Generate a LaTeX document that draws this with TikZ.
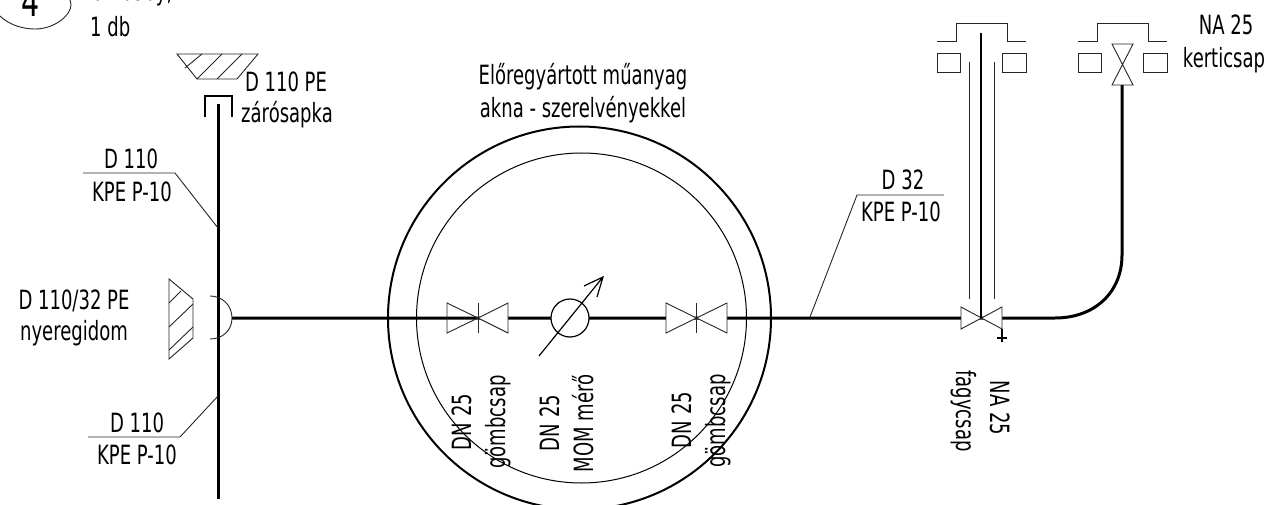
\documentclass[tikz,border=0pt]{standalone}
\usepackage{fontspec}
\setmainfont{DejaVu Sans}[FakeStretch=0.68]
\tikzset{
  thinl/.style={line width=0.9pt,black!85},
  pipe/.style={line width=3pt,black},
  txt/.style={inner sep=0pt,font=\fontsize{26.5}{26.5}\selectfont,black},
  valveb/.style={line width=0.9pt,black!85,fill=white}
}
\begin{document}
\begin{tikzpicture}[x=1pt,y=-1pt]
\useasboundingbox (0,0) rectangle (1271,505);
\clip (0,0) rectangle (1271,505);
% circles
\coordinate (co) at (579.5,318);
\coordinate (ci) at (581.5,318);
\draw[line width=2pt] (co) circle[radius=191.5];
\draw[line width=1pt] (ci) circle[radius=165];
% ellipse + number
\draw[thinl] (0,16) .. controls (10,26) and (25,29) .. (35,29) .. controls (55,29) and (71,15) .. (71,5) .. controls (71,2) and (70,0) .. (69,-2);
\node[txt,font=\fontsize{42}{42}\selectfont,anchor=base] (num) at (31,17) {4};
\node[txt,anchor=base west] (qty) at (92,1) {0 - 050y,};
\node[txt,anchor=base west] (db) at (90,37) {1 db};
% pipes
\coordinate (vtop) at (218,104);
\coordinate (vbot) at (218,499);
\draw[pipe] (vtop) -- (vbot);
\coordinate (tee) at (232,318);
\coordinate (bend) at (1122,85);
\draw[pipe] (tee) -- (1055,318) .. controls (1095,318) and (1122,292) .. (1122,255) -- (bend);
% cap
\draw[line width=2.4pt] (205,117) -- (205,96) -- (232,96) -- (232,117);
% cap hatch
\draw[thinl] (177,54) -- (258,54) -- (237,79) -- (197,79) -- cycle;
\draw[thinl] (185,68) -- (202,54) (197,79) -- (222,54) (217,79) -- (242,54);
% saddle
\draw[thinl] (169,279) -- (193,299) -- (193,338) -- (169,359) -- cycle;
\draw[thinl] (169,303) -- (181,291) (169,327) -- (193,304) (169,350) -- (193,327);
\draw[thinl] (210,296) .. controls (222,296) and (232,305) .. (232,318) .. controls (232,331) and (222,339) .. (210,339);
% leaders
\draw[thinl] (83,173) -- (175,173) -- (218,228);
\draw[thinl] (88,437) -- (180,437) -- (218,396);
\draw[thinl] (944,195) -- (857,195) -- (810,317);
% valve left: pipe stays visible in its left half
\draw[thinl] (447,303) -- (447,333) -- (478,318) -- cycle;
\draw[valveb] (478,318) -- (508,303) -- (508,333) -- cycle;
\draw[thinl] (478,303) -- (478,333);
% valve right
\draw[valveb] (666,303) -- (727,333) -- (727,303) -- (666,333) -- cycle;
\draw[thinl] (696,303) -- (696,333);
% meter
\node[draw,circle,line width=1.2pt,fill=white,minimum size=38pt,inner sep=0pt] (mom) at (570,318) {};
\coordinate (ms) at (539,356);
\coordinate (me) at (603,277);
\coordinate (ma) at (584,286);
\coordinate (mb) at (597,297);
\draw[line width=1.2pt] (ms) -- (me) (ma) -- (me) -- (mb);
% frost valve
\draw[valveb] (961,307) -- (1002,329) -- (1002,307) -- (961,329) -- cycle;
\draw[line width=1.4pt] (981,33) -- (981,318);
\draw[thinl] (969,62) -- (969,299) (994,62) -- (994,299);
\draw[line width=1.5pt] (1002,329) -- (1002,342) (997,338) -- (1007,338);
% surface boxes
\foreach \dx in {0,141}{
  \draw[thinl,xshift=\dx pt] (937,41) -- (956,41) -- (956,23) -- (1007,23) -- (1007,41) -- (1026,41);
  \draw[thinl,xshift=\dx pt] (937,53) rectangle (960,72) (1002,53) rectangle (1026,72);
}
% garden tap
\draw[valveb] (1112,44) -- (1133,44) -- (1112,85) -- (1133,85) -- cycle;
% labels
\node[txt] (l1) at (286,82) {D 110 PE};
\node[txt] (l2) at (287,115) {zárósapka};
\node[txt] (l3) at (131,159) {D 110};
\node[txt] (l4) at (132,192) {KPE P-10};
\node[txt] (l5) at (74,301) {D 110/32 PE};
\node[txt] (l6) at (74,333) {nyeregidom};
\node[txt] (l7) at (137,423) {D 110};
\node[txt] (l8) at (137,455) {KPE P-10};
\node[txt] (l9) at (583,77) {Előregyártott műanyag};
\node[txt] (l10) at (583,110) {akna - szerelvényekkel};
\node[txt] (l11) at (903,180) {D 32};
\node[txt] (l12) at (901,212) {KPE P-10};
\node[txt] (l13) at (1226,25) {NA 25};
\node[txt] (l14) at (1224,60) {kerticsap};
\node[txt,rotate=90] (r1) at (462,422) {DN 25};
\node[txt,rotate=90] (r2) at (498,422) {gömbcsap};
\node[txt,rotate=90] (r3) at (550,423) {DN 25};
\node[txt,rotate=90] (r4) at (583,423) {MOM mérő};
\node[txt,rotate=90] (r5) at (682,420) {DN 25};
\node[txt,rotate=90] (r6) at (718,421) {gömbcsap};
\node[txt,rotate=-90] (r7) at (1000,408) {NA 25};
\node[txt,rotate=-90] (r8) at (964,411) {fagycsap};
\end{tikzpicture}
\end{document}
